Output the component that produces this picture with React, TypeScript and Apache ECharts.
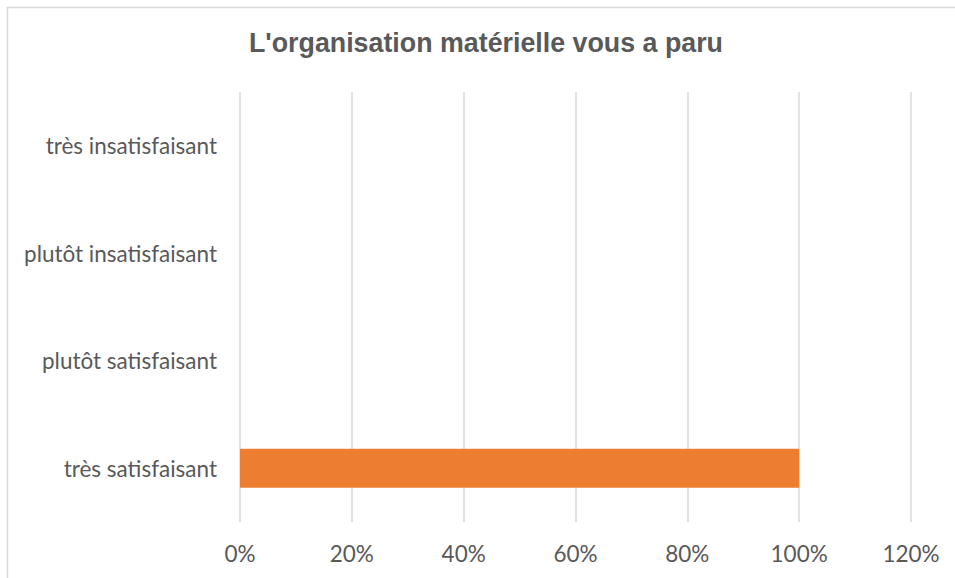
import React, { useEffect, useRef } from "react";
import * as echarts from "echarts";

const title = "L'organisation matérielle vous a paru";
const categories = ["très satisfaisant", "plutôt satisfaisant", "plutôt insatisfaisant", "très insatisfaisant"];
const values = [1, 0, 0, 0];
const xTicks = [0, 0.2, 0.4, 0.6, 0.8, 1, 1.2];

export default function App() {
  const ref = useRef<HTMLDivElement>(null);
  useEffect(() => {
    const chart = echarts.init(ref.current!, null, { renderer: "svg" });
    chart.setOption({
      animation: false,
      backgroundColor: "#ffffff",
      title: {
        text: title,
        left: 244,
        top: 24,
        textStyle: { fontFamily: "Liberation Sans", fontWeight: "bold", fontSize: 26.8, color: "#595959" },
      },
      graphic: [
        {
          type: "rect",
          shape: { x: 7.5, y: 7.5, width: 970, height: 600 },
          style: { fill: "none", stroke: "#d9d9d9", lineWidth: 1.5 },
          silent: true,
        },
      ],
      grid: { left: 240, right: 44, top: 92, bottom: 56 },
      xAxis: {
        type: "value",
        min: 0,
        max: xTicks[xTicks.length - 1],
        interval: 0.2,
        axisLine: { show: false },
        axisTick: { show: false },
        splitLine: { show: true, lineStyle: { color: "#d9d9d9", width: 1.5 } },
        axisLabel: {
          margin: 20,
          fontFamily: "Lato",
          fontSize: 22.5,
          color: "#595959",
          formatter: (v: number) => Math.round(v * 100) + "%",
        },
      },
      yAxis: {
        type: "category",
        data: categories,
        axisLine: { show: false },
        axisTick: { show: false },
        axisLabel: { margin: 23, fontFamily: "Lato", fontSize: 22.5, color: "#595959" },
      },
      series: [
        {
          type: "bar",
          data: values,
          barWidth: 39,
          itemStyle: { color: "#ED7D31" },
        },
      ],
    });
    return () => chart.dispose();
  }, []);
  return <div ref={ref} style={{ position: "absolute", left: 0, top: 0, width: 955, height: 578 }} />;
}
